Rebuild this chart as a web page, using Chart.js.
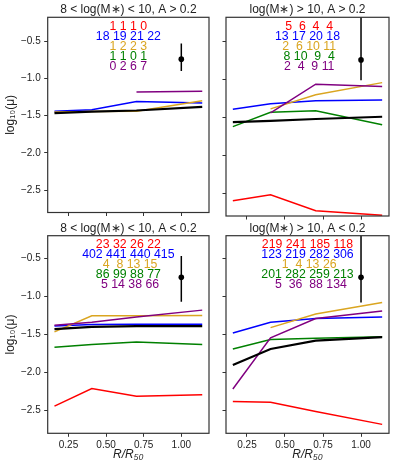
<!DOCTYPE html>
<html><head><meta charset="utf-8">
<script src="https://cdn.jsdelivr.net/npm/chart.js@4.4.0/dist/chart.umd.min.js"></script>
<style>
html,body{margin:0;padding:0;background:#fff;}
#wrap{position:relative;width:399px;height:470px;overflow:hidden;background:#fff;}
canvas{position:absolute;}
</style></head><body>
<div id="wrap">
<canvas id="c0" width="218" height="222" style="left:0px;top:0px"></canvas>
<canvas id="c1" width="181" height="222" style="left:218px;top:0px"></canvas>
<canvas id="c2" width="218" height="250" style="left:0px;top:220px"></canvas>
<canvas id="c3" width="181" height="250" style="left:218px;top:220px"></canvas>
</div>
<script>
// ---------------- data ----------------
const xVals = [0.157, 0.405, 0.702, 1.139];
const xTickVals = [0.25, 0.50, 0.75, 1.00];
const xTickLabels = ['0.25', '0.50', '0.75', '1.00'];
const yTickVals = [-2.5, -2.0, -1.5, -1.0, -0.5];
const yTickLabels = ['\u22122.5', '\u22122.0', '\u22121.5', '\u22121.0', '\u22120.5'];
const panelTitles = ['8 < log(M\u2217) < 10, A > 0.2', 'log(M\u2217) > 10, A > 0.2',
                     '8 < log(M\u2217) < 10, A < 0.2', 'log(M\u2217) > 10, A < 0.2'];
const yAxisTitle = 'log\u2081\u2080(\u03bc)';
const xAxisTitle = 'R/R\u2085\u2080';

// panel 1: 8<logM<10, A>0.2
const p1Red    = [null, null, null, null];
const p1Blue   = [-1.44, -1.42, -1.31, -1.33];
const p1Orange = [-1.45, -1.445, -1.44, -1.30];
const p1Green  = [null, null, null, null];
const p1Purple = [null, null, -1.18, -1.17];
const p1Black  = [-1.465, -1.445, -1.43, -1.38];
const p1Counts = [[1, 1, 1, 0], [18, 19, 21, 22], [1, 2, 2, 3], [1, 1, 0, 1], [0, 2, 6, 7]];
const p1Err    = [1.0, -0.74, -0.90, -0.53];   // x, y, low, high

// panel 2: logM>10, A>0.2
const p2Red    = [-2.60, -2.52, -2.73, -2.79];
const p2Blue   = [-1.39, -1.32, -1.28, -1.27];
const p2Orange = [null, -1.386, -1.20, -1.04];
const p2Green  = [-1.62, -1.43, -1.41, -1.595];
const p2Purple = [null, -1.44, -1.06, -1.09];
const p2Black  = [-1.56, -1.545, -1.52, -1.49];
const p2Counts = [[5, 6, 4, 4], [13, 17, 20, 18], [2, 6, 10, 11], [8, 10, 9, 4], [2, 4, 9, 11]];
const p2Err    = [1.0, -0.74, -1.01, 0.0];

// panel 3: 8<logM<10, A<0.2
const p3Red    = [-2.44, -2.21, -2.31, -2.29];
const p3Blue   = [-1.39, -1.37, -1.365, -1.365];
const p3Orange = [-1.466, -1.255, -1.255, -1.25];
const p3Green  = [-1.667, -1.63, -1.60, -1.63];
const p3Purple = [-1.38, -1.34, -1.27, -1.18];
const p3Black  = [-1.43, -1.40, -1.39, -1.39];
const p3Counts = [[23, 32, 26, 22], [402, 441, 440, 415], [4, 8, 13, 15], [86, 99, 88, 77], [5, 14, 38, 66]];
const p3Err    = [1.0, -0.75, -1.07, -0.47];

// panel 4: logM>10, A<0.2
const p4Red    = [-2.38, -2.39, -2.51, -2.68];
const p4Blue   = [-1.48, -1.34, -1.29, -1.27];
const p4Orange = [null, -1.41, -1.23, -1.08];
const p4Green  = [-1.69, -1.565, -1.55, -1.53];
const p4Purple = [-2.215, -1.545, -1.29, -1.19];
const p4Black  = [-1.90, -1.69, -1.58, -1.535];
const p4Counts = [[219, 241, 185, 118], [123, 219, 282, 306], [1, 4, 13, 26], [201, 282, 259, 213], [5, 36, 88, 134]];
const p4Err    = [1.0, -0.75, -1.08, 0.0];

// ---------------- styling / layout ----------------
const COLORS = ['#ff0000', '#0000ff', '#daa520', '#008000', '#800080'];
const FONT = '"Liberation Sans", Arial, Helvetica, sans-serif';
const FRAME = '#333333';

function fmtRow(arr, minPad) {
  const w = Math.max(minPad, ...arr.map(v => String(v).length));
  return arr.map(v => String(v).padStart(w, ' ')).join(' ');
}

function extrasPlugin(counts, err, minPad) {
  return {
    id: 'extras',
    afterDatasetsDraw(chart) {
      const {ctx, chartArea: a, scales: {x, y}} = chart;
      ctx.save();
      // error bar
      ctx.beginPath();
      ctx.rect(a.left, a.top, a.right - a.left, a.bottom - a.top);
      ctx.clip();
      const ex = x.getPixelForValue(err[0]);
      ctx.strokeStyle = '#000';
      ctx.lineWidth = 1.5;
      ctx.beginPath();
      ctx.moveTo(ex, y.getPixelForValue(err[2]));
      ctx.lineTo(ex, y.getPixelForValue(err[3]));
      ctx.stroke();
      ctx.fillStyle = '#000';
      ctx.beginPath();
      ctx.arc(ex, y.getPixelForValue(err[1]), 2.8, 0, Math.PI * 2);
      ctx.fill();
      ctx.restore();
      // count rows
      ctx.save();
      ctx.font = '12.3px ' + FONT;
      ctx.textAlign = 'center';
      ctx.textBaseline = 'middle';
      const cx = (a.left + a.right) / 2;
      counts.forEach((row, i) => {
        ctx.fillStyle = COLORS[i];
        ctx.fillText(fmtRow(row, minPad), cx, a.top + 9.4 + 10 * i);
      });
      ctx.restore();
    },
    afterDraw(chart) {
      const {ctx, chartArea: a} = chart;
      ctx.save();
      ctx.strokeStyle = FRAME;
      ctx.lineWidth = 1.2;
      ctx.strokeRect(a.left, a.top, a.right - a.left, a.bottom - a.top);
      ctx.restore();
    }
  };
}

function makePanel(id, title, series, counts, err, g) {
  const names = ['red', 'blue', 'orange', 'green', 'purple'];
  const datasets = series.slice(0, 5).map((s, i) => ({
    label: names[i], data: s, borderColor: COLORS[i], borderWidth: 1.5,
    pointRadius: 0, tension: 0, fill: false, spanGaps: false, order: 6 - i
  }));
  datasets.push({label: 'all', data: series[5], borderColor: '#000', borderWidth: 2.2,
    pointRadius: 0, tension: 0, fill: false, order: 0});
  return new Chart(document.getElementById(id), {
    type: 'line',
    data: {labels: xVals, datasets: datasets.map(d => ({...d, data: d.data.map((v, k) => ({x: xVals[k], y: v}))}))},
    options: {
      responsive: false, animation: false, devicePixelRatio: 1,
      layout: {padding: {left: 0, right: g.padRight, top: 0, bottom: 0}},
      plugins: {
        legend: {display: false}, tooltip: {enabled: false},
        title: {display: true, text: title, fullSize: false, color: '#222',
          font: {family: FONT, size: 12, weight: 'normal', lineHeight: 1.2},
          padding: {top: g.titleTop, bottom: g.titleBottom}}
      },
      scales: {
        x: {
          type: 'linear', min: 0.112, max: 1.184,
          afterBuildTicks: s => { s.ticks = xTickVals.map(v => ({value: v})); },
          afterFit: s => { s.height = g.xH; },
          ticks: {display: g.xLabels, padding: 2.4, color: '#222',
            font: {family: FONT, size: 10}, maxRotation: 0,
            callback: v => { const k = xTickVals.indexOf(v); return k >= 0 ? xTickLabels[k] : ''; }},
          grid: {display: true, drawOnChartArea: false, drawTicks: true, tickLength: 3.5, tickColor: FRAME, tickWidth: 1},
          border: {display: false},
          title: {display: g.xLabels, text: xAxisTitle, color: '#222',
            font: {family: FONT, size: 12, style: 'italic', lineHeight: 1.2},
            padding: {top: 0, bottom: 7.8}}
        },
        y: {
          type: 'linear', min: g.yMin, max: g.yMax,
          afterBuildTicks: s => { s.ticks = yTickVals.map(v => ({value: v})); },
          afterFit: s => { s.width = g.yW; },
          ticks: {display: g.yLabels, padding: 3.5, color: '#222',
            font: {family: FONT, size: 10},
            callback: v => { const k = yTickVals.findIndex(t => Math.abs(t - v) < 1e-6); return k >= 0 ? yTickLabels[k] : ''; }},
          grid: {display: true, drawOnChartArea: false, drawTicks: true, tickLength: 3.5, tickColor: FRAME, tickWidth: 1},
          border: {display: false},
          title: {display: g.yLabels, text: yAxisTitle, color: '#222',
            font: {family: FONT, size: 12, lineHeight: 1.2},
            padding: {top: 3.8, bottom: 0}}
        }
      }
    },
    plugins: [extrasPlugin(counts, err, g.minPad)]
  });
}

const topL = {padRight: 9, titleTop: 2.8, titleBottom: 0.1, xH: 6, yW: 47.7, xLabels: false, yLabels: true, yMin: -2.80, yMax: -0.178, minPad: 1};
const topR = {padRight: 10, titleTop: 2.8, titleBottom: 0.1, xH: 6, yW: 8, xLabels: false, yLabels: false, yMin: -2.80, yMax: -0.178, minPad: 2};
const botL = {padRight: 9, titleTop: 1.1, titleBottom: 0.2, xH: 36.7, yW: 47.7, xLabels: true, yLabels: true, yMin: -2.797, yMax: -0.203, minPad: 1};
const botR = {padRight: 10, titleTop: 1.1, titleBottom: 0.2, xH: 36.7, yW: 8, xLabels: true, yLabels: false, yMin: -2.797, yMax: -0.203, minPad: 1};

makePanel('c0', panelTitles[0], [p1Red, p1Blue, p1Orange, p1Green, p1Purple, p1Black], p1Counts, p1Err, topL);
makePanel('c1', panelTitles[1], [p2Red, p2Blue, p2Orange, p2Green, p2Purple, p2Black], p2Counts, p2Err, topR);
makePanel('c2', panelTitles[2], [p3Red, p3Blue, p3Orange, p3Green, p3Purple, p3Black], p3Counts, p3Err, botL);
makePanel('c3', panelTitles[3], [p4Red, p4Blue, p4Orange, p4Green, p4Purple, p4Black], p4Counts, p4Err, botR);
</script>
</body></html>
